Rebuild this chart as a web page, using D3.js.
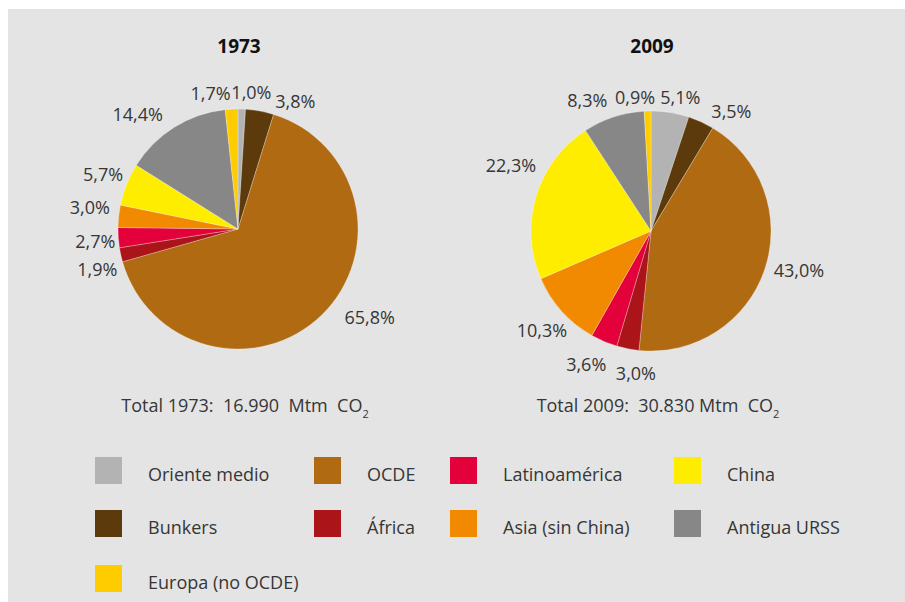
<!DOCTYPE html>
<html>
<head>
<meta charset="utf-8">
<script src="https://cdn.jsdelivr.net/npm/d3@7"></script>
<style>
    body { margin: 0; background: #ffffff; }
    text { font-family: "Open Sans", "Noto Sans", sans-serif; }
</style>
</head>
<body>
<div id="chart"></div>
<script>
// Regions, in the order the slices go clockwise from 12 o'clock
const regions = ["Oriente medio", "Bunkers", "OCDE", "África", "Latinoamérica",
                 "Asia (sin China)", "China", "Antigua URSS", "Europa (no OCDE)"];
const colors = ["#b3b3b3", "#5c3a0b", "#b06a12", "#ab1519", "#e4003a",
                "#f18a00", "#ffed00", "#878787", "#ffcc00"];

// Share of CO2 emissions (%)
const values1973 = [1.0, 3.8, 65.8, 1.9, 2.7, 3.0, 5.7, 14.4, 1.7];
const values2009 = [5.1, 3.5, 43.0, 3.0, 3.6, 10.3, 22.3, 8.3, 0.9];

const years = ["1973", "2009"];
const totals = ["Total 1973:  16.990  Mtm  CO", "Total 2009:  30.830 Mtm  CO"];

// label nudges from the centroid of the outer label arc (layout only)
const nudge1973 = [[9, 3], [32, 10], [34, -12], [-4, 10], [-3, 2], [-9, -7], [-5, -3], [-26, 4], [-20, 4]];
const nudge2009 = [[7, 5], [22, 8], [15, -5], [12, 5], [-10, 5], [-5, 6], [-6, -25], [-20, 3], [-12, 6]];

const svgWidth = 905;
const svgHeight = 602;
const radius = 120;
const textColor = "#363636";

const svg = d3.select("#chart").append("svg")
    .attr("width", svgWidth)
    .attr("height", svgHeight);

// gray panel
svg.append("rect")
    .attr("x", 8)
    .attr("y", 9)
    .attr("width", svgWidth - 8)
    .attr("height", svgHeight - 9)
    .style("fill", "#e4e4e4");

const pie = d3.pie().sort(null).value(d => d);
const arc = d3.arc().innerRadius(0).outerRadius(radius);
const labelArc = d3.arc().innerRadius(140).outerRadius(140);

function drawPie(values, nudges, cx, cy, year, total) {
    const g = svg.append("g")
        .attr("transform", "translate(" + cx + "," + cy + ")");

    const slices = pie(values);

    g.selectAll(".slice")
        .data(slices)
        .enter().append("path")
        .attr("class", "slice")
        .attr("d", arc)
        .style("fill", (d, i) => colors[i])
        .style("stroke", "rgba(255,255,255,0.45)")
        .style("stroke-width", 0.6);

    // percentage labels
    g.selectAll(".pct")
        .data(slices)
        .enter().append("text")
        .attr("class", "pct")
        .attr("x", (d, i) => labelArc.centroid(d)[0] + nudges[i][0])
        .attr("y", (d, i) => labelArc.centroid(d)[1] + nudges[i][1])
        .attr("dy", "0.36em")
        .attr("text-anchor", "middle")
        .style("font-size", "18px")
        .style("fill", textColor)
        .text(d => d3.format(".1f")(d.value).replace(".", ",") + "%");

    // year title
    g.append("text")
        .attr("x", 1)
        .attr("y", -cy + 53)
        .attr("text-anchor", "middle")
        .style("font-size", "19px")
        .style("font-weight", "bold")
        .style("fill", "#111111")
        .text(year);

    // total below the pie
    const t = g.append("text")
        .attr("x", 7)
        .attr("y", 412 - cy)
        .attr("text-anchor", "middle")
        .attr("xml:space", "preserve")
        .style("white-space", "pre")
        .style("font-size", "18px")
        .style("fill", textColor);
    t.append("tspan").text(total);
    t.append("tspan")
        .attr("dy", 6)
        .style("font-size", "11px")
        .text("2");
}

drawPie(values1973, nudge1973, 238, 229, years[0], totals[0]);
drawPie(values2009, nudge2009, 651, 231, years[1], totals[1]);

// Legend: two rows per column in slice order, the last one wraps to a third row
const colX = [95, 314, 450, 674];
const rowY = [457, 510, 565];

const legend = svg.selectAll(".legend")
    .data(regions)
    .enter().append("g")
    .attr("class", "legend")
    .attr("transform", (d, i) => {
        const col = i < 8 ? Math.floor(i / 2) : 0;
        const row = i < 8 ? i % 2 : 2;
        return "translate(" + colX[col] + "," + rowY[row] + ")";
    });

legend.append("rect")
    .attr("width", 27)
    .attr("height", 27)
    .style("fill", (d, i) => colors[i]);

legend.append("text")
    .attr("x", 53)
    .attr("y", 24)
    .style("font-size", "18px")
    .style("fill", textColor)
    .text(d => d);
</script>
</body>
</html>
